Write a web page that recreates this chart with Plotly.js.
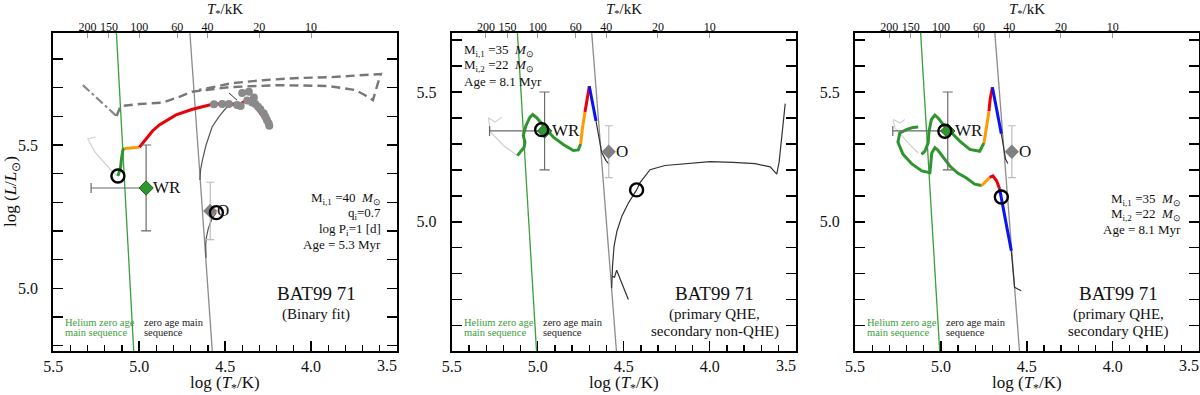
<!DOCTYPE html>
<html>
<head>
<meta charset="utf-8">
<script src="https://cdn.plot.ly/plotly-3.0.1.min.js"></script>
<style>
  html, body { margin: 0; padding: 0; background: #fff; }
  #chart { width: 1200px; height: 395px; }
</style>
</head>
<body>
<div id="chart"></div>
<script>
// axis ticks
const logTTicks = [5.5, 5.0, 4.5, 4.0, 3.5];
const kK = [200, 150, 100, 60, 40, 20, 10];

// zero age main sequences (same in every panel)
const heZamsT = [5.002, 5.138];
const heZamsL = [4.45, 5.95];
const zamsT = [4.536, 4.712];
const zamsL = [4.45, 5.95];

// observed positions
const wrT = [4.96], wrL = [5.35], wrErrT = [0.32], wrErrL = [0.15];
const oT = [4.587], oL = [5.27], oErrL = [0.1];

// ---- panel 1 : binary fit ----
const p1DashDotT = [5.328, 5.132];
const p1DashDotL = [5.709, 5.601];
const p1DashT = [5.132, 5.108, 4.999, 4.866, 4.785, 4.692, 4.478, 4.189, 3.899, 3.743, 3.686, 3.640, 3.611, 3.594, 3.882, 4.073, 4.264, 4.461, 4.652];
const p1DashL = [5.601, 5.636, 5.643, 5.648, 5.664, 5.686, 5.702, 5.709, 5.706, 5.692, 5.674, 5.657, 5.716, 5.748, 5.737, 5.734, 5.727, 5.716, 5.692];
const p1GrayT = [5.253, 5.299, 5.259, 5.155, 5.124];
const p1GrayL = [5.528, 5.521, 5.476, 5.406, 5.392];
const p1GreenT = [5.124, 5.108, 5.104, 5.095, 5.085];
const p1GreenL = [5.392, 5.424, 5.448, 5.483, 5.488];
const p1OrangeT = [5.085, 4.999];
const p1OrangeL = [5.488, 5.492];
const p1RedT = [4.999, 4.960, 4.923, 4.883, 4.786, 4.690, 4.575, 4.478, 4.420, 4.381, 4.350, 4.316, 4.287, 4.258, 4.241];
const p1RedL = [5.492, 5.523, 5.549, 5.570, 5.605, 5.625, 5.642, 5.646, 5.640, 5.655, 5.650, 5.629, 5.605, 5.584, 5.566];
const p1DotsT = [4.565, 4.517, 4.478, 4.430, 4.410, 4.401, 4.362, 4.333, 4.372, 4.343, 4.324, 4.309, 4.295, 4.276, 4.266, 4.257, 4.247, 4.243];
const p1DotsL = [5.642, 5.643, 5.643, 5.640, 5.636, 5.682, 5.686, 5.666, 5.655, 5.648, 5.643, 5.634, 5.625, 5.611, 5.599, 5.587, 5.576, 5.567];
const p1SecAT = [4.647, 4.643, 4.632, 4.611, 4.576, 4.536, 4.495, 4.449];
const p1SecAL = [5.378, 5.413, 5.448, 5.500, 5.563, 5.599, 5.629, 5.640];
const p1SecBT = [4.551, 4.575, 4.598, 4.610, 4.613, 4.611];
const p1SecBL = [5.264, 5.245, 5.209, 5.175, 5.151, 5.106];
const p1HookT = [4.478, 4.430];
const p1HookL = [5.682, 5.656];
const p1CircT = [5.124, 4.551];
const p1CircL = [5.392, 5.264];

// ---- panel 2 : primary QHE, secondary non-QHE ----
const p2GrayT = [5.209, 5.248, 5.287, 5.273, 5.199, 5.118];
const p2GrayL = [5.403, 5.384, 5.401, 5.345, 5.294, 5.255];
const p2GreenT = [5.118, 5.079, 5.074, 5.084, 5.068, 5.045, 5.029, 5.006, 4.967, 4.909, 4.851, 4.793, 4.764, 4.750];
const p2GreenL = [5.255, 5.287, 5.307, 5.333, 5.371, 5.403, 5.413, 5.401, 5.371, 5.326, 5.298, 5.275, 5.277, 5.300];
const p2OrangeT = [4.750, 4.740, 4.725];
const p2OrangeL = [5.300, 5.360, 5.423];
const p2RedT = [4.725, 4.700];
const p2RedL = [5.423, 5.522];
const p2BlueT = [4.700, 4.661];
const p2BlueL = [5.522, 5.388];
const p2ThinT = [4.661, 4.628, 4.603, 4.585];
const p2ThinL = [5.388, 5.268, 5.236, 5.222];
const p2SecT = [4.473, 4.541, 4.553, 4.568, 4.570, 4.565, 4.556, 4.539, 4.510, 4.475, 4.446, 4.425, 4.405, 4.376, 4.347, 4.260, 4.155, 3.998, 3.864, 3.736, 3.648, 3.610, 3.596, 3.578, 3.561];
const p2SecL = [4.701, 4.814, 4.787, 4.791, 4.745, 4.830, 4.907, 4.965, 5.023, 5.070, 5.101, 5.123, 5.151, 5.178, 5.201, 5.217, 5.224, 5.232, 5.229, 5.224, 5.212, 5.184, 5.232, 5.348, 5.455];
const p2CircT = [4.977, 4.425];
const p2CircL = [5.355, 5.123];

// ---- panel 3 : primary QHE, secondary QHE ----
const p3GrayT = [5.210, 5.239, 5.278, 5.268, 5.200, 5.132];
const p3GrayL = [5.394, 5.381, 5.394, 5.362, 5.311, 5.265];
const p3Green1T = [5.113, 5.093, 5.074, 5.069, 5.055, 5.035, 5.016, 4.983, 4.938, 4.890, 4.832, 4.774, 4.749];
const p3Green1L = [5.260, 5.272, 5.304, 5.349, 5.394, 5.411, 5.400, 5.372, 5.343, 5.311, 5.279, 5.272, 5.304];
const p3Orange1T = [4.749, 4.736, 4.720];
const p3Orange1L = [5.304, 5.361, 5.426];
const p3Red1T = [4.720, 4.713, 4.700];
const p3Red1L = [5.426, 5.472, 5.518];
const p3Blue1T = [4.700, 4.648];
const p3Blue1L = [5.518, 5.339];
const p3Thin1T = [4.648, 4.623, 4.610];
const p3Thin1L = [5.339, 5.241, 5.225];
const p3Thin2T = [4.590, 4.571, 4.532];
const p3Thin2L = [4.889, 4.748, 4.735];
const p3Blue2T = [4.590, 4.623, 4.648, 4.658];
const p3Blue2L = [4.889, 5.004, 5.096, 5.127];
const p3Red2T = [4.658, 4.675, 4.697, 4.716];
const p3Red2L = [5.127, 5.157, 5.177, 5.171];
const p3Orange2T = [4.716, 4.735, 4.762];
const p3Orange2L = [5.171, 5.157, 5.140];
const p3Green2T = [4.762, 4.803, 4.851, 4.902, 4.948, 4.989, 5.018, 5.035, 5.053, 5.059, 5.064, 5.111, 5.169, 5.221, 5.250, 5.239, 5.198, 5.163, 5.132];
const p3Green2L = [5.140, 5.145, 5.169, 5.188, 5.215, 5.249, 5.276, 5.285, 5.265, 5.223, 5.189, 5.196, 5.223, 5.261, 5.307, 5.342, 5.356, 5.363, 5.365];
const p3CircT = [4.977, 4.648];
const p3CircL = [5.349, 5.096];

const SERIF = "Liberation Serif, Times New Roman, serif";
const GREEN = "#2f962f", ORANGE = "#ff9a00", RED = "#e8000b", BLUE = "#0a14f0";

function ax(i, kind) { return i === 1 ? kind : kind + i; }

function ln(xs, ys, i, color, width, dash) {
  return {
    type: "scatter", mode: "lines", x: xs, y: ys,
    xaxis: ax(i, "x"), yaxis: ax(i, "y"),
    line: { color: color, width: width, dash: dash || "solid" },
    hoverinfo: "skip", showlegend: false
  };
}

function pts(xs, ys, i, marker) {
  return {
    type: "scatter", mode: "markers", x: xs, y: ys,
    xaxis: ax(i, "x"), yaxis: ax(i, "y"),
    marker: marker, hoverinfo: "skip", showlegend: false, cliponaxis: false
  };
}

function observed(i) {
  return [
    {
      type: "scatter", mode: "markers", x: oT, y: oL,
      xaxis: ax(i, "x"), yaxis: ax(i, "y"),
      marker: { symbol: "diamond", size: 11, color: "#808080" },
      error_y: { type: "data", array: oErrL, color: "#bdbdbd", thickness: 1.2, width: 4 },
      hoverinfo: "skip", showlegend: false
    },
    {
      type: "scatter", mode: "markers", x: wrT, y: wrL,
      xaxis: ax(i, "x"), yaxis: ax(i, "y"),
      marker: { symbol: "diamond", size: 11, color: "#2f962f", line: { color: "#1d5e1d", width: 1 } },
      error_y: { type: "data", array: wrErrL, color: "#6a6a6a", thickness: 1.2, width: 5 },
      error_x: { type: "data", symmetric: false, array: wrErrT, arrayminus: [0], color: "#6a6a6a", thickness: 1.2, width: 5 },
      hoverinfo: "skip", showlegend: false
    }
  ];
}

function zams(i) {
  return [ln(heZamsT, heZamsL, i, "#3c9e3c", 1.3), ln(zamsT, zamsL, i, "#8c8c8c", 1.3)];
}

const circ = { symbol: "circle-open", size: 13, color: "#000", line: { color: "#000", width: 2.4 } };

const traces = [
  // panel 1
  ...zams(1),
  ln(p1DashDotT, p1DashDotL, 1, "#8a8a8a", 2.2, "dashdot"),
  ln(p1DashT, p1DashL, 1, "#777", 2.4, "9px,5px"),
  ln(p1GrayT, p1GrayL, 1, "#d0d0d0", 1.2),
  ln(p1SecAT, p1SecAL, 1, "#555", 1.2),
  ln(p1SecBT, p1SecBL, 1, "#555", 1.2),
  ln(p1HookT, p1HookL, 1, "#333", 1),
  ln(p1GreenT, p1GreenL, 1, GREEN, 3),
  ln(p1OrangeT, p1OrangeL, 1, ORANGE, 3),
  ln(p1RedT, p1RedL, 1, RED, 3),
  pts(p1DotsT, p1DotsL, 1, { size: 8, color: "#8a8a8a" }),
  ...observed(1),
  pts(p1CircT, p1CircL, 1, circ),

  // panel 2
  ...zams(2),
  ln(p2GrayT, p2GrayL, 2, "#d0d0d0", 1.2),
  ln(p2SecT, p2SecL, 2, "#333", 1.2),
  ln(p2ThinT, p2ThinL, 2, "#333", 1.2),
  ln(p2GreenT, p2GreenL, 2, GREEN, 3),
  ln(p2OrangeT, p2OrangeL, 2, ORANGE, 3),
  ln(p2RedT, p2RedL, 2, RED, 3),
  ln(p2BlueT, p2BlueL, 2, BLUE, 3),
  ...observed(2),
  pts(p2CircT, p2CircL, 2, circ),

  // panel 3
  ...zams(3),
  ln(p3GrayT, p3GrayL, 3, "#d0d0d0", 1.2),
  ln(p3Thin1T, p3Thin1L, 3, "#333", 1.2),
  ln(p3Thin2T, p3Thin2L, 3, "#333", 1.2),
  ln(p3Green1T, p3Green1L, 3, GREEN, 3),
  ln(p3Orange1T, p3Orange1L, 3, ORANGE, 3),
  ln(p3Red1T, p3Red1L, 3, RED, 3),
  ln(p3Blue1T, p3Blue1L, 3, BLUE, 3),
  ln(p3Green2T, p3Green2L, 3, GREEN, 3),
  ln(p3Orange2T, p3Orange2L, 3, ORANGE, 3),
  ln(p3Red2T, p3Red2L, 3, RED, 3),
  ln(p3Blue2T, p3Blue2L, 3, BLUE, 3),
  ...observed(3),
  pts(p3CircT, p3CircL, 3, circ)
];

// dummy traces so the top (kK) axes are drawn
[4, 5, 6].forEach((k, j) => {
  traces.push({ type: "scatter", mode: "markers", x: [null], y: [null],
    xaxis: "x" + k, yaxis: ax(j + 1, "y"), showlegend: false, hoverinfo: "skip" });
});

const W = 1200, H = 395;
const panels = [
  { left: 53.3, right: 397, yr: [4.781, 5.891] },
  { left: 451.7, right: 795.7, yr: [4.503, 5.727] },
  { left: 855, right: 1198.5, yr: [4.503, 5.727] }
];
const yDom = [1 - 351 / H, 1 - 33 / H];

const layout = {
  width: W, height: H,
  margin: { l: 0, r: 0, t: 0, b: 0 },
  paper_bgcolor: "#fff", plot_bgcolor: "#fff",
  font: { family: SERIF, color: "#111", size: 15 },
  showlegend: false,
  annotations: []
};

const kKvals = kK.map(t => Math.log10(t * 1000));
// last label sits at the frame edge: drawn separately, pulled inwards
const lastTick = logTTicks[logTTicks.length - 1];
const bottomText = logTTicks.map(v => v === lastTick ? "" : v.toFixed(1));

// text placed by pixel position on the page
function note(x, y, text, size, opts) {
  return Object.assign({ xref: "paper", yref: "paper", x: x / W, y: 1 - y / H, text: text,
    showarrow: false, xanchor: "center", yanchor: "middle", font: { size: size } }, opts || {});
}

panels.forEach((p, j) => {
  const i = j + 1;
  const dom = [p.left / W, p.right / W];
  layout[ax(i, "xaxis")] = {
    domain: dom, anchor: ax(i, "y"), range: [5.5, 3.5],
    tickmode: "array", tickvals: logTTicks, ticktext: bottomText, tickangle: 0,
    ticks: "inside", ticklen: 10, tickwidth: 1.5, tickcolor: "#000",
    minor: { dtick: 0.1, tick0: 3.5, ticks: "inside", ticklen: 6, tickwidth: 1.2, tickcolor: "#000" },
    showline: true, linewidth: 2, linecolor: "#000", mirror: true,
    showgrid: false, zeroline: false, ticklabelstandoff: 0,
    tickfont: { family: SERIF, size: 16, color: "#111" }
  };
  layout[ax(i, "yaxis")] = {
    domain: yDom, anchor: ax(i, "x"), range: p.yr,
    tick0: 5.0, dtick: 0.5, tickformat: ".1f",
    ticks: "inside", ticklen: 10, tickwidth: 1.5, tickcolor: "#000",
    minor: { dtick: 0.1, ticks: "inside", ticklen: 6, tickwidth: 1.2, tickcolor: "#000" },
    showline: true, linewidth: 2, linecolor: "#000", mirror: "allticks",
    showgrid: false, zeroline: false, ticklabelstandoff: 10,
    tickfont: { family: SERIF, size: 16, color: "#111" }
  };
  layout["xaxis" + (i + 3)] = {
    overlaying: ax(i, "x"), anchor: ax(i, "y"), side: "top", range: [5.5, 3.5],
    tickmode: "array", tickvals: kKvals, ticktext: kK.map(String), tickangle: 0,
    ticks: "inside", ticklen: 5, tickwidth: 1, tickcolor: "#999",
    showline: false, showgrid: false, zeroline: false, ticklabelstandoff: -1,
    tickfont: { family: SERIF, size: 12, color: "#111" }
  };

  const cx = (p.left + p.right) / 2;
  const green = { font: { size: 10.5, color: "#3c9e3c" }, xanchor: "left" };
  const dark = { font: { size: 10.5, color: "#222" }, xanchor: "left" };
  layout.annotations.push(
    note(cx, 10, "<i>T</i><sub>*</sub>/kK", 15),
    note(cx, 384, "log (<i>T</i><sub>*</sub>/K)", 17),
    note(p.right - 10, 365, lastTick.toFixed(1), 16),
    note(p.left + 10, 322.5, "Helium zero age", 10.5, green),
    note(p.left + 10, 332, "main sequence", 10.5, green),
    note(p.left + 89, 322.5, "zero age main", 10.5, dark),
    note(p.left + 89, 332, "sequence", 10.5, dark),
    note(p.left + 263, 293, "BAT99 71", 19),
    { xref: ax(i, "x"), yref: ax(i, "y"), x: wrT[0], y: wrL[0], xanchor: "left", yanchor: "middle",
      xshift: 5, text: "WR", showarrow: false, font: { size: 17 } },
    { xref: ax(i, "x"), yref: ax(i, "y"), x: oT[0], y: oL[0], xanchor: "left", yanchor: "middle",
      xshift: 5, text: "O", showarrow: false, font: { size: 17 } }
  );
});

// y title
layout.annotations.push(note(12, 192, "log (<i>L</i>/<i>L</i><sub>⊙</sub>)", 17, { textangle: -90 }));

// panel subtitles
const sub = [
  ["(Binary fit)"],
  ["(primary QHE,", "secondary non-QHE)"],
  ["(primary QHE,", "secondary QHE)"]
];
sub.forEach((lines, j) => {
  lines.forEach((t, k) => layout.annotations.push(note(panels[j].left + 263, 314 + 17.5 * k, t, 15)));
});

// model parameter blocks
const msun = "<i>M</i><sub>⊙</sub>";
const p1Info = ["M<sub>i,1</sub> =40  " + msun, "q<sub>i</sub>=0.7", "log P<sub>i</sub>=1 [d]", "Age = 5.3 Myr"];
const p2Info = ["M<sub>i,1</sub> =35  " + msun, "M<sub>i,2</sub> =22  " + msun, "Age = 8.1 Myr"];
p1Info.forEach((t, k) => layout.annotations.push(note(383, 198 + 15.5 * k, t, 13, { xanchor: "right" })));
p2Info.forEach((t, k) => layout.annotations.push(note(462, 50 + 15.5 * k, t, 13, { xanchor: "left" })));
p2Info.forEach((t, k) => layout.annotations.push(note(1183, 199 + 15 * k, t, 13, { xanchor: "right" })));

Plotly.newPlot("chart", traces, layout, { displayModeBar: false, staticPlot: true });
</script>
</body>
</html>
